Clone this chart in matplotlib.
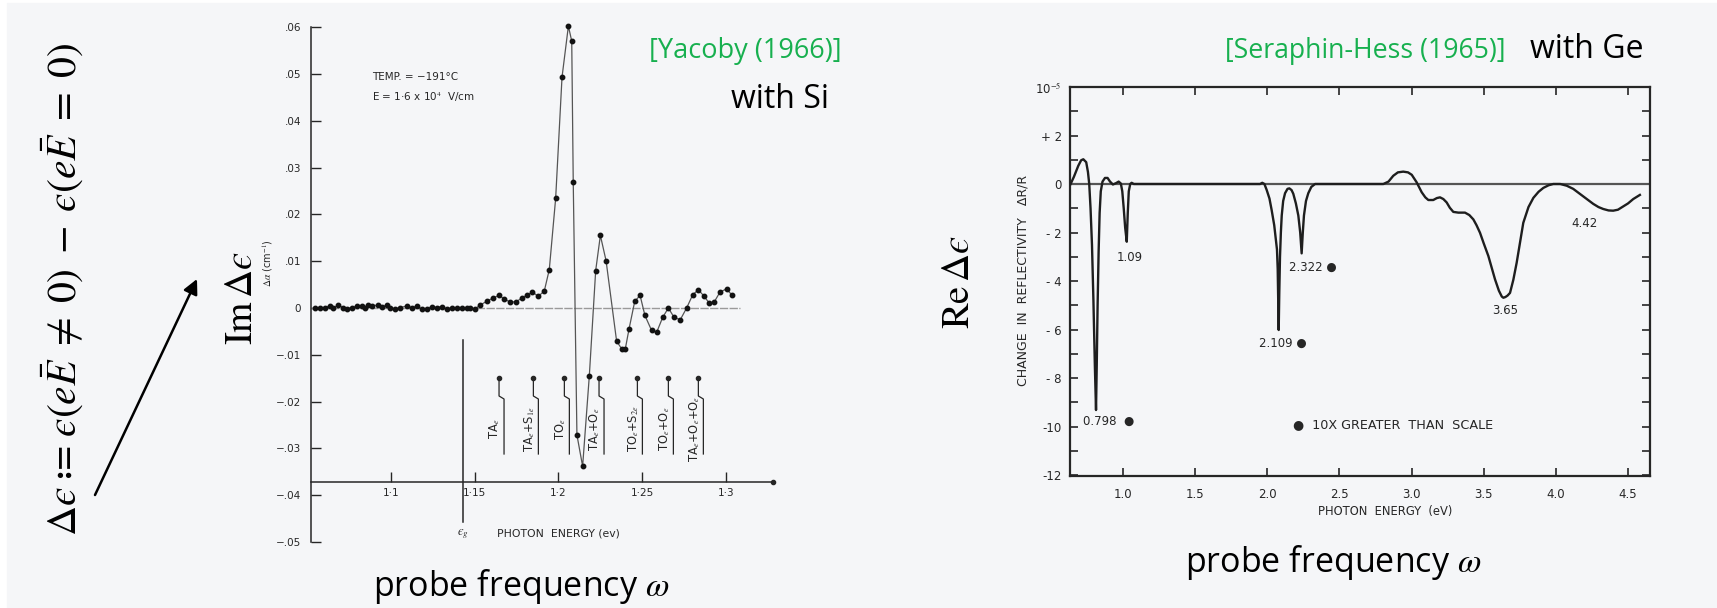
import matplotlib
matplotlib.use('Agg')
import matplotlib.pyplot as plt
from matplotlib.patches import Rectangle

W, H = 1717, 608
plt.rcParams['mathtext.fontset'] = 'stix'

# ---------------- data: Si (Yacoby 1966) ----------------
si_energy = [1.0546, 1.0576, 1.0606, 1.0636, 1.0656, 1.0686, 1.0715, 1.0735, 1.0765, 1.0795,
             1.0825, 1.0845, 1.0865, 1.0885, 1.0924, 1.0944, 1.0974, 1.0994, 1.1024, 1.1054,
             1.1094, 1.1124, 1.1153, 1.1183, 1.1213, 1.1243, 1.1273, 1.1303, 1.1333, 1.1362,
             1.1392, 1.1422, 1.1452, 1.1472, 1.1501,
             1.1530, 1.1571, 1.1607, 1.1645, 1.1677, 1.1710, 1.1746, 1.1780, 1.1814, 1.1844,
             1.1879, 1.1915, 1.1945, 1.1983, 1.2021, 1.2059, 1.2079, 1.2088, 1.2110, 1.2144,
             1.2184, 1.2222, 1.2250, 1.2284, 1.2347, 1.2377, 1.2399, 1.2421, 1.2455, 1.2487,
             1.2516, 1.2556, 1.2586, 1.2622, 1.2656, 1.2690, 1.2727, 1.2765, 1.2801, 1.2835,
             1.2867, 1.2899, 1.2930, 1.2964, 1.3004, 1.3034]
si_dalpha = [0.0000, 0.0001, 0.0001, 0.0005, 0.0001, 0.0006, 0.0001, -0.0002, 0.0001, 0.0004,
             0.0004, 0.0000, 0.0006, 0.0005, 0.0006, 0.0002, 0.0006, 0.0001, -0.0002, 0.0001,
             0.0004, 0.0001, 0.0004, -0.0002, -0.0002, 0.0003, 0.0001, 0.0003, -0.0002, 0.0000,
             0.0001, 0.0001, -0.0001, 0.0000, -0.0003,
             0.0006, 0.0014, 0.0021, 0.0027, 0.0019, 0.0013, 0.0013, 0.0021, 0.0028, 0.0034,
             0.0025, 0.0036, 0.0082, 0.0234, 0.0493, 0.0602, 0.0570, 0.0269, -0.0271, -0.0338,
             -0.0145, 0.0080, 0.0155, 0.0101, -0.0071, -0.0087, -0.0087, -0.0045, 0.0014, 0.0027,
             -0.0016, -0.0048, -0.0052, -0.0020, 0.0000, -0.0020, -0.0025, 0.0000, 0.0028, 0.0039,
             0.0026, 0.0011, 0.0013, 0.0034, 0.0041, 0.0028]
si_phonon_labels = [r'TA$_e$', r'TA$_e$+S$_{1e}$', r'TO$_e$', r'TA$_e$+O$_e$',
                    r'TO$_e$+S$_{2e}$', r'TO$_e$+O$_e$', r'TA$_e$+O$_e$+O$_e$']
si_phonon_energy = [1.1645, 1.1850, 1.2035, 1.2242, 1.2471, 1.2656, 1.2835]
si_gap_energy = 1.1430
si_xticks = [1.1, 1.15, 1.2, 1.25, 1.3]
si_xticklabels = ['1·1', '1·15', '1·2', '1·25', '1·3']
si_yticks = [0.06, 0.05, 0.04, 0.03, 0.02, 0.01, 0.0, -0.01, -0.02, -0.03, -0.04, -0.05]
si_yticklabels = ['.06', '.05', '.04', '.03', '.02', '.01', '0',
                  '−.01', '−.02', '−.03', '−.04', '−.05']

# ---------------- data: Ge (Seraphin-Hess 1965) ----------------
ge_energy = [0.637, 0.660, 0.690, 0.710, 0.725, 0.745, 0.757, 0.766, 0.775, 0.785,
             0.795, 0.805, 0.813, 0.818, 0.824, 0.831, 0.838, 0.846, 0.858, 0.875,
             0.893, 0.910, 0.930, 0.950, 0.970, 0.985, 0.995, 1.005, 1.015, 1.026,
             1.033, 1.040, 1.050, 1.060, 1.075, 1.500, 1.950, 1.965, 1.980, 1.996,
             2.015, 2.030, 2.048, 2.060, 2.067, 2.072, 2.076, 2.079, 2.083, 2.088,
             2.094, 2.100, 2.110, 2.123, 2.140, 2.153, 2.168, 2.180, 2.198, 2.215,
             2.228, 2.238, 2.246, 2.254, 2.268, 2.284, 2.305, 2.331, 2.600, 2.804,
             2.840, 2.873, 2.905, 2.942, 2.975, 3.001, 3.035, 3.070, 3.095, 3.116,
             3.150, 3.175, 3.197, 3.220, 3.243, 3.265, 3.289, 3.324, 3.370, 3.400,
             3.428, 3.450, 3.474, 3.500, 3.532, 3.555, 3.578, 3.605, 3.625, 3.636,
             3.650, 3.665, 3.682, 3.705, 3.728, 3.750, 3.774, 3.810, 3.844, 3.880,
             3.913, 3.950, 3.982, 4.030, 4.075, 4.120, 4.167, 4.215, 4.259, 4.295,
             4.328, 4.365, 4.397, 4.430, 4.467, 4.500, 4.536, 4.582]
ge_dRR = [0.00, 0.30, 0.75, 0.98, 1.02, 0.90, 0.50, 0.00, -1.00, -2.50,
          -4.80, -7.50, -9.32, -7.50, -5.00, -2.80, -1.20, -0.30, 0.10, 0.25,
          0.25, 0.10, -0.02, 0.03, 0.10, 0.02, -0.30, -1.00, -1.80, -2.38,
          -1.20, -0.30, 0.00, 0.05, 0.00, 0.00, 0.00, 0.05, 0.00, -0.25,
          -0.60, -1.07, -1.70, -2.31, -2.70, -3.50, -4.80, -6.02, -4.50, -3.00,
          -2.00, -1.30, -0.70, -0.38, -0.20, -0.18, -0.25, -0.40, -0.80, -1.30,
          -2.00, -2.86, -2.00, -1.30, -0.70, -0.38, -0.12, 0.00, 0.00, 0.00,
          0.10, 0.34, 0.48, 0.51, 0.48, 0.38, 0.07, -0.34, -0.55, -0.66,
          -0.66, -0.58, -0.55, -0.62, -0.76, -0.98, -1.15, -1.18, -1.18, -1.28,
          -1.46, -1.70, -2.01, -2.45, -2.97, -3.45, -3.93, -4.40, -4.64, -4.69,
          -4.66, -4.60, -4.49, -3.95, -3.25, -2.45, -1.60, -0.95, -0.57, -0.32,
          -0.16, -0.05, 0.00, 0.00, -0.07, -0.20, -0.41, -0.62, -0.82, -0.95,
          -1.03, -1.09, -1.10, -1.06, -0.92, -0.80, -0.62, -0.45]
ge_peak_labels = ['0.798  ●', '1.09', '2.109 ●', '2.322 ●', '3.65', '4.42']
ge_xticks = [1.0, 1.5, 2.0, 2.5, 3.0, 3.5, 4.0, 4.5]
ge_xticklabels = ['1.0', '1.5', '2.0', '2.5', '3.0', '3.5', '4.0', '4.5']
ge_yticks = [4, 2, 0, -2, -4, -6, -8, -10, -12]
ge_yticklabels = [r'10$^{-5}$', '+ 2', '0', '- 2', '- 4', '- 6', '- 8', '-10', '-12']
ge_yminor = [3, 1, -1, -3, -5, -7, -9, -11]

INK = '#262626'
GREEN = '#17b04f'
BG = '#f5f6f8'
SANS = ['Open Sans', 'DejaVu Sans']
SCAN = ['DejaVu Sans']

fig = plt.figure(figsize=(W / 100, H / 100), dpi=100)
fig.patch.set_facecolor('white')

# background / overlay axes in pixel coordinates
bg = fig.add_axes([0, 0, 1, 1])
bg.set_xlim(0, W)
bg.set_ylim(H, 0)
bg.axis('off')
bg.add_patch(Rectangle((7, 3), W - 7, H - 3, color=BG, zorder=0))


def frac_box(left, top, right, bottom):
    return [left / W, 1 - bottom / H, (right - left) / W, (bottom - top) / H]


# ---------------- Si panel ----------------
SI_L, SI_R, SI_T, SI_B = 300, 780, 15, 560
SI_X0, SI_PXPEREV = 391, 1675.0   # pixel of 1.1 eV, pixels per eV
SI_Y0, SI_PXPERU = 308, 4682.0    # pixel of 0, pixels per unit


def sx(px):
    return 1.1 + (px - SI_X0) / SI_PXPEREV


def sy(py):
    return (SI_Y0 - py) / SI_PXPERU


ax = fig.add_axes(frac_box(SI_L, SI_T, SI_R, SI_B))
ax.set_facecolor('none')
ax.set_xlim(sx(SI_L), sx(SI_R))
ax.set_ylim(sy(SI_B), sy(SI_T))
for s in ['top', 'right']:
    ax.spines[s].set_visible(False)
ax.spines['left'].set_position(('data', sx(311)))
ax.spines['left'].set_bounds(-0.05, 0.06)
ax.spines['bottom'].set_position(('data', sy(482)))
ax.spines['bottom'].set_bounds(sx(311), sx(773))
for s in ['left', 'bottom']:
    ax.spines[s].set_color(INK)
    ax.spines[s].set_linewidth(1.1)
ax.set_xticks(si_xticks)
ax.set_xticklabels(si_xticklabels, fontfamily=SCAN, fontsize=7.5, color=INK)
ax.set_yticks(si_yticks)
ax.set_yticklabels(si_yticklabels, fontfamily=SCAN, fontsize=7.5, color=INK)
ax.tick_params(axis='both', direction='in', length=7, width=1, color=INK)
ax.tick_params(axis='x', pad=4)
ax.tick_params(axis='y', pad=7)

ax.plot([sx(311), sx(740)], [0, 0], color='#9a9a9a', lw=1.0, ls=(0, (6, 1)))
ax.plot(si_energy, si_dalpha, color='#555555', lw=0.9, marker='o', ms=3.2,
        mfc='#111111', mec='#111111', zorder=3)
ax.plot([sx(773)], [sy(482)], 'o', ms=3, color=INK)
ax.plot([si_gap_energy, si_gap_energy], [sy(340), sy(522)], color=INK, lw=1.1)

for lab, e in zip(si_phonon_labels, si_phonon_energy):
    dx = 5 / SI_PXPEREV
    ax.plot([e], [sy(378)], 'o', ms=3, color=INK)
    ax.plot([e, e, e + dx, e + dx], [sy(378), sy(396), sy(399), sy(454)], color=INK, lw=0.9)
    ax.text(e - 4 / SI_PXPEREV, sy(429), lab, rotation=90, ha='center', va='center',
            fontsize=8.3, color=INK, fontfamily=SCAN)

ax.text(sx(372), sy(77), 'TEMP. = −191°C', fontsize=7.5, color=INK, fontfamily=SCAN,
        ha='left', va='center')
ax.text(sx(372), sy(97), r'E = 1·6 x 10$^4$  V/cm', fontsize=7.5, color=INK,
        fontfamily=SCAN, ha='left', va='center')
ax.text(si_gap_energy, sy(534), r'$ϵ_g$', fontsize=9, color=INK, ha='center', va='center')
ax.text(sx(497), sy(533), 'PHOTON  ENERGY (ev)', fontsize=7.8, color=INK, fontfamily=SCAN,
        ha='left', va='center')
ax.text(sx(268), sy(263), r'$\Delta\alpha$ (cm$^{-1}$)', fontsize=7, color=INK,
        fontfamily=SCAN, rotation=90, ha='center', va='center')

# ---------------- Ge panel ----------------
GE_L, GE_R, GE_T, GE_B = 1070, 1650, 87, 476
gx = fig.add_axes(frac_box(GE_L, GE_T, GE_R, GE_B))
gx.set_facecolor('none')
gx.set_xlim(0.6327, 4.6521)
gx.set_ylim(-12.04, 4.0)
for s in gx.spines.values():
    s.set_color(INK)
    s.set_linewidth(1.6)
gx.set_xticks(ge_xticks)
gx.set_xticklabels(ge_xticklabels, fontfamily=SCAN, fontsize=8.5, color=INK)
gx.set_yticks(ge_yticks)
gx.set_yticklabels(ge_yticklabels, fontfamily=SCAN, fontsize=8.5, color=INK)
gx.set_yticks(ge_yminor, minor=True)
gx.tick_params(axis='both', which='both', direction='in', top=True, right=True,
               length=6, width=1.2, color=INK)
gx.tick_params(axis='x', pad=9)
gx.tick_params(axis='y', pad=6)
gx.axhline(0, color='#555555', lw=1.6)
gx.plot(ge_energy, ge_dRR, color='#1e1e1e', lw=1.7, zorder=3)

lab_pos = [(0.725, -9.8, 'left'), (1.049, -3.05, 'center'), (1.945, -6.57, 'left'),
           (2.152, -3.45, 'left'), (3.647, -5.2, 'center'), (4.195, -1.62, 'center')]
for lab, (x, y, ha) in zip(ge_peak_labels, lab_pos):
    gx.text(x, y, lab, fontsize=8.5, color=INK, fontfamily=SCAN, ha=ha, va='center')
gx.text(2.18, -9.91, '●  10X GREATER  THAN  SCALE', fontsize=9.2, color=INK,
        fontfamily=SCAN, ha='left', va='center')

bg.text(1385, 511, 'PHOTON  ENERGY  (eV)', fontsize=8.3, color=INK, fontfamily=SCAN,
        ha='center', va='center')
bg.text(1023, 280, 'CHANGE  IN  REFLECTIVITY   ΔR/R', fontsize=9, color=INK,
        fontfamily=SCAN, rotation=90, ha='center', va='center')

# ---------------- slide texts ----------------
bg.text(649, 51, '[Yacoby (1966)]', fontsize=19.5, color=GREEN, fontfamily=SANS,
        ha='left', va='center')
bg.text(829, 99, 'with Si', fontsize=23, color='black', fontfamily=SANS,
        ha='right', va='center')
bg.text(1225, 51, '[Seraphin-Hess (1965)]', fontsize=19.2, color=GREEN, fontfamily=SANS,
        ha='left', va='center')
bg.text(1643, 50, 'with Ge', fontsize=23, color='black', fontfamily=SANS,
        ha='right', va='center')
bg.text(521, 587, r'probe frequency $\omega$', fontsize=24.5, color='black', fontfamily=SANS,
        ha='center', va='center')
bg.text(1333, 562, r'probe frequency $\omega$', fontsize=24.5, color='black', fontfamily=SANS,
        ha='center', va='center')
bg.text(241, 298, r'$\mathrm{Im}\,\Delta ϵ$', fontsize=28, rotation=90,
        ha='center', va='center', color='black')
bg.text(958, 282, r'$\mathrm{Re}\,\Delta ϵ$', fontsize=28, rotation=90,
        ha='center', va='center', color='black')
bg.text(62, 289,
        r'$\Delta ϵ\;≔\;ϵ(e\bar{E}\;\neq\;0)\;-\;ϵ(e\bar{E}\;=\;0)$',
        fontsize=30, rotation=90, ha='center', va='center', color='black')
bg.annotate('', xy=(197, 279), xytext=(95, 495),
            arrowprops=dict(arrowstyle='-|>', lw=1.8, color='black', mutation_scale=22,
                            shrinkA=0, shrinkB=0))

fig.savefig('out.png', dpi=100, facecolor=fig.get_facecolor())
